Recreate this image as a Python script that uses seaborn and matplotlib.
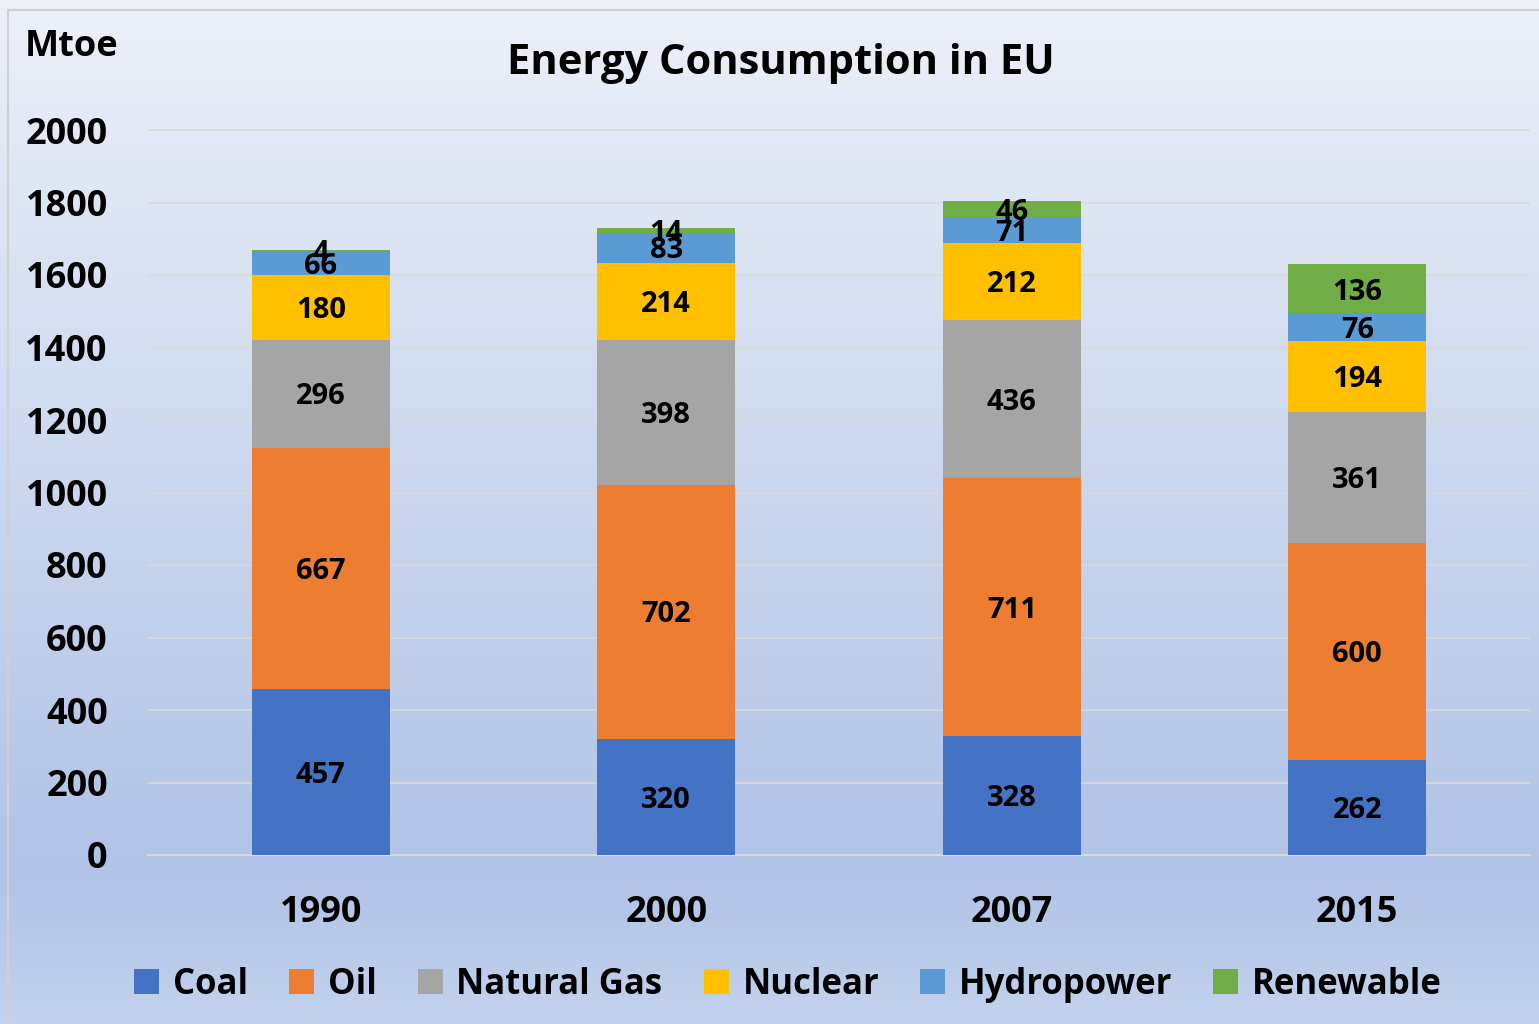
import numpy as np
import pandas as pd
import matplotlib
matplotlib.use("Agg")
import matplotlib.pyplot as plt
import seaborn as sns
from matplotlib.patches import Rectangle, Patch
from matplotlib.colors import LinearSegmentedColormap
from matplotlib.transforms import offset_copy

years = ["1990", "2000", "2007", "2015"]
sources = ["Coal", "Oil", "Natural Gas", "Nuclear", "Hydropower", "Renewable"]
coal = [457, 320, 328, 262]
oil = [667, 702, 711, 600]
gas = [296, 398, 436, 361]
nuclear = [180, 214, 212, 194]
hydro = [66, 83, 71, 76]
renewable = [4, 14, 46, 136]
colors = ["#4472C4", "#ED7D31", "#A5A5A5", "#FFC000", "#5B9BD5", "#70AD47"]
yticks = [0, 200, 400, 600, 800, 1000, 1200, 1400, 1600, 1800, 2000]

series = [coal, oil, gas, nuclear, hydro, renewable]
df = pd.DataFrame({"year": years})
for s, v in zip(sources, series):
    df[s] = v
cum = df[sources].cumsum(axis=1)

sns.set_theme(style="white")
plt.rcParams["font.family"] = ["Open Sans", "DejaVu Sans"]
plt.rcParams["font.weight"] = "bold"
plt.rcParams["text.color"] = "black"
plt.rcParams["xtick.color"] = "black"
plt.rcParams["ytick.color"] = "black"

W, H = 1539, 1024
fig = plt.figure(figsize=(W / 100, H / 100), dpi=100)

# background gradient
bg = fig.add_axes([0, 0, 1, 1], zorder=-10)
cmap = LinearSegmentedColormap.from_list(
    "bg", [(0.0, (236/255, 240/255, 248/255)), (0.85, (176/255, 195/255, 230/255)),
           (1.0, (194/255, 210/255, 238/255))])
grad = np.linspace(0, 1, 256).reshape(-1, 1)
bg.imshow(grad, aspect="auto", cmap=cmap, extent=[0, 1, 0, 1], origin="upper")
bg.add_patch(Rectangle((8 / W, 0), 1, 1 - 10 / H, fill=False, edgecolor="#d0d0d0", lw=1.5))
bg.set_xlim(0, 1); bg.set_ylim(0, 1)
bg.axis("off")

ax = fig.add_axes([148 / W, (H - 855) / H, (1530 - 148) / W, (855 - 130) / H * 2100 / 2000])
ax.patch.set_alpha(0)

for i in range(len(sources) - 1, -1, -1):
    sns.barplot(x=df["year"], y=cum[sources[i]], color=colors[i], width=0.4,
                saturation=1, ax=ax, order=years, zorder=3, linewidth=0)

ax.set_ylim(0, 2100)
ax.set_xlim(-0.5, 3.5)
ax.set_yticks(yticks)
ax.set_yticklabels([str(t) for t in yticks], fontsize=26, fontweight="bold", color="black")
ax.set_xticklabels(years, fontsize=26, fontweight="bold", color="black")
ax.tick_params(axis="y", length=0, pad=29)
ax.tick_params(axis="x", length=0, pad=29)
ax.grid(axis="y", color="#d9d9d9", lw=1.2, zorder=0)
for sp in ["left", "right", "top"]:
    ax.spines[sp].set_visible(False)
ax.spines["bottom"].set_color("#d9d9d9")
ax.spines["bottom"].set_linewidth(1.5)
ax.set_xlabel("")
ax.set_ylabel("")

# data labels
lab_tr = offset_copy(ax.transData, fig=fig, x=0, y=-3, units="dots")
for j in range(len(years)):
    base = 0
    for i, s in enumerate(sources):
        v = df[s][j]
        ax.text(j, base + v / 2, str(v), ha="center", va="center", transform=lab_tr,
                fontsize=21, fontweight="bold", color="black", zorder=5)
        base += v

fig.text(781 / W, 1 - 63 / H, "Energy Consumption in EU", ha="center", va="center",
         fontsize=30, fontweight="bold", color="black")
fig.text(25 / W, 1 - 47 / H, "Mtoe", ha="left", va="center", fontsize=26,
         fontweight="bold", color="black")

handles = [Patch(facecolor=c, edgecolor="none") for c in colors]
fig.legend(handles, sources, loc="center", bbox_to_anchor=(788 / W, 1 - 985 / H), ncol=6,
           frameon=False, handlelength=0.72, handleheight=0.72,
           handletextpad=0.4, columnspacing=1.18, prop={"weight": "bold", "size": 25})

fig.savefig("out.png", dpi=100)
